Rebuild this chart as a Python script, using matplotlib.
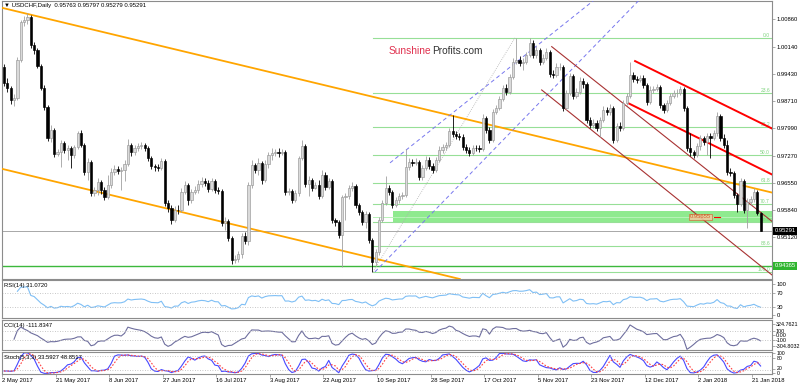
import matplotlib
matplotlib.use("Agg")
import matplotlib.pyplot as plt
import matplotlib.transforms as mtransforms
import numpy as np
import pandas as pd

plt.rcParams['font.family'] = ['Liberation Sans', 'DejaVu Sans']

# ---- data ----
title_text = "USDCHF,Daily  0.95763 0.95797 0.95279 0.95291"
first_open = 0.9960
last_open = 0.95763

closes = [
    0.9918, 0.9905, 0.9874, 0.9879, 0.9979, 1.0079, 1.0084, 1.0092, 1.0018, 1.0005,
    0.9963, 0.9905, 0.9855, 0.9773, 0.9795, 0.9731, 0.9737, 0.9760, 0.9742, 0.9747,
    0.9729, 0.9750, 0.9787, 0.9755, 0.9684, 0.9710, 0.9629, 0.9637, 0.9658, 0.9637,
    0.9618, 0.9650, 0.9684, 0.9692, 0.9687, 0.9689, 0.9705, 0.9755, 0.9737, 0.9747,
    0.9752, 0.9755, 0.9747, 0.9721, 0.9700, 0.9697, 0.9694, 0.9713, 0.9602, 0.9589,
    0.9558, 0.9584, 0.9583, 0.9631, 0.9650, 0.9610, 0.9631, 0.9637, 0.9652, 0.9660,
    0.9655, 0.9639, 0.9660, 0.9637, 0.9634, 0.9550, 0.9555, 0.9510, 0.9452, 0.9455,
    0.9468, 0.9515, 0.9502, 0.9650, 0.9702, 0.9689, 0.9708, 0.9663, 0.9705, 0.9729,
    0.9734, 0.9737, 0.9734, 0.9737, 0.9631, 0.9634, 0.9610, 0.9629, 0.9721, 0.9752,
    0.9652, 0.9663, 0.9642, 0.9650, 0.9621, 0.9676, 0.9644, 0.9660, 0.9558, 0.9552,
    0.9518, 0.9618, 0.9621, 0.9642, 0.9647, 0.9597, 0.9579, 0.9552, 0.9573, 0.9505,
    0.9447, 0.9473, 0.9558, 0.9602, 0.9642, 0.9631, 0.9597, 0.9610, 0.9621, 0.9623,
    0.9697, 0.9710, 0.9708, 0.9711, 0.9671, 0.9694, 0.9716, 0.9700, 0.9689, 0.9716,
    0.9742, 0.9750, 0.9755, 0.9792, 0.9784, 0.9779, 0.9776, 0.9750, 0.9742, 0.9734,
    0.9747, 0.9746, 0.9744, 0.9826, 0.9795, 0.9768, 0.9842, 0.9852, 0.9876, 0.9905,
    0.9895, 0.9934, 0.9974, 0.9979, 0.9971, 0.9974, 0.9992, 1.0024, 0.9992, 1.0005,
    0.9974, 0.9984, 1.0000, 0.9942, 0.9939, 0.9960, 0.9961, 0.9852, 0.9892, 0.9937,
    0.9884, 0.9895, 0.9924, 0.9916, 0.9821, 0.9808, 0.9813, 0.9800, 0.9821, 0.9847,
    0.9842, 0.9852, 0.9768, 0.9805, 0.9800, 0.9866, 0.9884, 0.9939, 0.9929, 0.9926,
    0.9931, 0.9913, 0.9868, 0.9900, 0.9902, 0.9908, 0.9860, 0.9847, 0.9866, 0.9884,
    0.9892, 0.9893, 0.9902, 0.9852, 0.9747, 0.9737, 0.9729, 0.9752, 0.9773, 0.9763,
    0.9779, 0.9773, 0.9787, 0.9831, 0.9773, 0.9755, 0.9684, 0.9681, 0.9623, 0.9600,
    0.9660, 0.9584, 0.9605, 0.9613, 0.9631, 0.9576, 0.95291]

highs = [
    0.9968, 0.9931, 0.9910, 0.9889, 0.9987, 1.0084, 1.0095, 1.0103, 1.0097, 1.0026,
    1.0010, 0.9968, 0.9913, 0.9860, 0.9808, 0.9800, 0.9744, 0.9768, 0.9766, 0.9755,
    0.9752, 0.9755, 0.9792, 0.9795, 0.9760, 0.9721, 0.9716, 0.9644, 0.9668, 0.9663,
    0.9644, 0.9676, 0.9694, 0.9702, 0.9700, 0.9697, 0.9716, 0.9771, 0.9760, 0.9755,
    0.9760, 0.9763, 0.9760, 0.9752, 0.9726, 0.9705, 0.9705, 0.9721, 0.9718, 0.9610,
    0.9597, 0.9594, 0.9597, 0.9642, 0.9660, 0.9655, 0.9639, 0.9647, 0.9663, 0.9671,
    0.9668, 0.9663, 0.9668, 0.9665, 0.9644, 0.9639, 0.9565, 0.9560, 0.9515, 0.9465,
    0.9476, 0.9523, 0.9526, 0.9658, 0.9716, 0.9708, 0.9721, 0.9713, 0.9716, 0.9737,
    0.9747, 0.9744, 0.9747, 0.9744, 0.9742, 0.9642, 0.9639, 0.9637, 0.9726, 0.9768,
    0.9758, 0.9673, 0.9668, 0.9658, 0.9663, 0.9689, 0.9684, 0.9668, 0.9665, 0.9563,
    0.9558, 0.9623, 0.9629, 0.9650, 0.9658, 0.9652, 0.9602, 0.9584, 0.9581, 0.9579,
    0.9510, 0.9481, 0.9565, 0.9610, 0.9673, 0.9650, 0.9637, 0.9618, 0.9629, 0.9631,
    0.9744, 0.9721, 0.9718, 0.9721, 0.9716, 0.9702, 0.9726, 0.9723, 0.9708, 0.9723,
    0.9752, 0.9758, 0.9763, 0.9800, 0.9834, 0.9792, 0.9787, 0.9784, 0.9758, 0.9750,
    0.9755, 0.9755, 0.9755, 0.9837, 0.9831, 0.9802, 0.9850, 0.9860, 0.9884, 0.9913,
    0.9916, 0.9942, 0.9984, 1.0037, 0.9989, 0.9984, 1.0000, 1.0037, 1.0031, 1.0016,
    1.0010, 0.9995, 1.0010, 1.0005, 0.9952, 0.9971, 0.9971, 0.9966, 0.9900, 0.9945,
    0.9942, 0.9905, 0.9934, 0.9931, 0.9921, 0.9829, 0.9823, 0.9821, 0.9829, 0.9858,
    0.9855, 0.9863, 0.9858, 0.9813, 0.9816, 0.9874, 0.9892, 0.9974, 0.9947, 0.9937,
    0.9939, 0.9939, 0.9918, 0.9910, 0.9910, 0.9916, 0.9913, 0.9866, 0.9874, 0.9892,
    0.9900, 0.9902, 0.9910, 0.9908, 0.9858, 0.9787, 0.9742, 0.9760, 0.9781, 0.9779,
    0.9787, 0.9787, 0.9795, 0.9842, 0.9837, 0.9784, 0.9768, 0.9694, 0.9687, 0.9629,
    0.9668, 0.9665, 0.9615, 0.9621, 0.9642, 0.9637, 0.95797]

lows = [
    0.9910, 0.9895, 0.9863, 0.9858, 0.9874, 0.9974, 1.0068, 1.0074, 1.0010, 0.9995,
    0.9958, 0.9900, 0.9847, 0.9766, 0.9763, 0.9723, 0.9726, 0.9697, 0.9734, 0.9716,
    0.9694, 0.9721, 0.9744, 0.9750, 0.9676, 0.9663, 0.9621, 0.9621, 0.9623, 0.9626,
    0.9610, 0.9613, 0.9642, 0.9676, 0.9679, 0.9637, 0.9660, 0.9700, 0.9726, 0.9729,
    0.9739, 0.9744, 0.9739, 0.9713, 0.9692, 0.9687, 0.9687, 0.9689, 0.9594, 0.9579,
    0.9547, 0.9552, 0.9573, 0.9579, 0.9626, 0.9597, 0.9602, 0.9626, 0.9629, 0.9644,
    0.9647, 0.9631, 0.9634, 0.9629, 0.9626, 0.9542, 0.9531, 0.9502, 0.9442, 0.9444,
    0.9447, 0.9457, 0.9494, 0.9492, 0.9642, 0.9681, 0.9676, 0.9652, 0.9658, 0.9694,
    0.9716, 0.9726, 0.9723, 0.9729, 0.9623, 0.9623, 0.9602, 0.9605, 0.9621, 0.9716,
    0.9644, 0.9621, 0.9634, 0.9639, 0.9613, 0.9615, 0.9637, 0.9639, 0.9550, 0.9542,
    0.9510, 0.9434, 0.9558, 0.9613, 0.9634, 0.9589, 0.9571, 0.9544, 0.9536, 0.9497,
    0.9421, 0.9436, 0.9465, 0.9552, 0.9597, 0.9623, 0.9589, 0.9592, 0.9602, 0.9613,
    0.9618, 0.9689, 0.9700, 0.9702, 0.9663, 0.9663, 0.9689, 0.9692, 0.9681, 0.9684,
    0.9710, 0.9734, 0.9742, 0.9750, 0.9776, 0.9771, 0.9768, 0.9742, 0.9734, 0.9726,
    0.9729, 0.9739, 0.9737, 0.9739, 0.9787, 0.9760, 0.9763, 0.9837, 0.9847, 0.9871,
    0.9887, 0.9889, 0.9929, 0.9968, 0.9963, 0.9952, 0.9968, 0.9987, 0.9984, 0.9984,
    0.9966, 0.9968, 0.9979, 0.9934, 0.9931, 0.9934, 0.9952, 0.9845, 0.9847, 0.9887,
    0.9876, 0.9879, 0.9889, 0.9905, 0.9813, 0.9800, 0.9800, 0.9792, 0.9776, 0.9816,
    0.9834, 0.9834, 0.9760, 0.9763, 0.9792, 0.9795, 0.9860, 0.9879, 0.9921, 0.9918,
    0.9921, 0.9905, 0.9860, 0.9863, 0.9892, 0.9897, 0.9852, 0.9839, 0.9842, 0.9860,
    0.9879, 0.9881, 0.9887, 0.9845, 0.9739, 0.9726, 0.9721, 0.9723, 0.9742, 0.9755,
    0.9729, 0.9721, 0.9768, 0.9779, 0.9766, 0.9747, 0.9676, 0.9673, 0.9615, 0.9579,
    0.9594, 0.9576, 0.9536, 0.9597, 0.9605, 0.9571, 0.95279]

date_labels = ["2 May 2017", "21 May 2017", "8 Jun 2017", "27 Jun 2017", "16 Jul 2017",
               "3 Aug 2017", "22 Aug 2017", "10 Sep 2017", "28 Sep 2017", "17 Oct 2017",
               "5 Nov 2017", "23 Nov 2017", "12 Dec 2017", "2 Jan 2018", "21 Jan 2018"]
bars_per_label = 16

price_ticks = [1.00860, 1.00140, 0.99430, 0.98710, 0.97990, 0.97270, 0.96550, 0.95840, 0.95120]
price_range = (0.94022, 1.01342)

fib_high, fib_low, fib_start = 1.0037, 0.9420, 110.2
fib_levels = [0.0, 23.6, 38.2, 50.0, 61.8, 70.7, 78.6, 88.6, 100.0]
fib_trend = [(110.2, 0.9421), (152.6, 1.0037)]

last_price = 0.95291
support_price = 0.94365
marked_price = 0.95655
zone_low, zone_high, zone_start = 0.9552, 0.9582, 116.2

orange_upper = [(0, 1.0115), (226, 0.9637)]
orange_lower = [(0, 0.9691), (135.3, 0.9404)]
blue_upper = [(115.3, 0.9708), (175.9, 1.0134)]
blue_lower = [(110.8, 0.9421), (189.1, 1.0131)]
brown_upper = [(163.6, 1.0014), (228.8, 0.9558)]
brown_lower = [(160.6, 0.9900), (228.8, 0.9417)]
red_upper = [(188.5, 0.9976), (228.8, 0.9801)]
red_lower = [(186.5, 0.9865), (228.8, 0.9680)]

rsi_text = "RSI(14) 31.0720"
cci_text = "CCI(14) -111.8347"
stoch_text = "Stoch(5,3,3) 33.5927 48.8517"
cci_range = (-304.8032, 324.7621)

# ---- build ohlc and indicators ----
c = np.array(closes)
h = np.array(highs)
l = np.array(lows)
o = np.concatenate([[first_open], c[:-1]])
o[-1] = last_open
n = len(c)
x = np.arange(n)

df = pd.DataFrame({"o": o, "h": h, "l": l, "c": c})
delta = df.c.diff()
gain = delta.clip(lower=0)
loss = -delta.clip(upper=0)
ag = gain.ewm(alpha=1/14, adjust=True).mean()
al = loss.ewm(alpha=1/14, adjust=True).mean()
rsi = 100 - 100 / (1 + ag / al)
rsi[:4] = np.nan  # not enough history for the first bars

tp = (df.h + df.l + df.c) / 3
sma = tp.rolling(14, min_periods=4).mean()
md = tp.rolling(14, min_periods=4).apply(lambda v: np.mean(np.abs(v - v.mean())), raw=True)
cci = (tp - sma) / (0.015 * md)

ll = df.l.rolling(5, min_periods=1).min()
hh = df.h.rolling(5, min_periods=1).max()
k = (df.c - ll).rolling(3, min_periods=1).sum() / (hh - ll).rolling(3, min_periods=1).sum() * 100
d = k.rolling(3, min_periods=1).mean()

# ---- figure ----
W, H = 800, 386
fig = plt.figure(figsize=(8, 3.86), dpi=100)
fig.patch.set_facecolor("white")


def box(top, bottom):
    return [2 / W, 1 - bottom / H, 770 / W, (bottom - top) / H]


ax = fig.add_axes(box(1, 279))
ax_rsi = fig.add_axes(box(280, 318), sharex=ax)
ax_cci = fig.add_axes(box(320, 350), sharex=ax)
ax_st = fig.add_axes(box(352, 374), sharex=ax)

for a in (ax, ax_rsi, ax_cci, ax_st):
    for s in a.spines.values():
        s.set_color("#8c8c8c")
        s.set_linewidth(0.8)
    a.yaxis.tick_right()
    a.tick_params(axis="y", length=2, width=0.5, colors="#8c8c8c", labelcolor="black",
                  labelsize=4.2, pad=1.2)
    a.tick_params(axis="x", length=0, labelbottom=False)

ax.set_xlim(-0.6, 229.4)
ax.set_ylim(*price_range)


def ray(a, pts, **kw):
    (x1, y1), (x2, y2) = pts
    slope = (y2 - y1) / (x2 - x1)
    xe = 240
    a.plot([x1, xe], [y1, y1 + slope * (xe - x1)], **kw)


# horizontal levels
ax.axhline(last_price, color="#a8a8a8", lw=0.7, zorder=1)
ax.axhline(support_price, color="#3cb83c", lw=1.0, zorder=1)
ax.fill_between([zone_start, 240], zone_low, zone_high, color="#8fea8f", lw=0, zorder=1)
ax.plot([fib_start, 240], [marked_price, marked_price], color="#b9f3b9", lw=0.7, zorder=1)

fr = fib_high - fib_low
for lv in fib_levels:
    p = fib_high - fr * lv / 100
    ax.plot([fib_start, 240], [p, p], color="#97df97", lw=0.8, zorder=1)
    ax.text(228.8, p, f"{lv:.1f}", color="#7fd37f", fontsize=3.6, ha="right", va="bottom",
            zorder=2)
ax.plot(*zip(*fib_trend), color="#b0b0b0", lw=0.6, ls=(0, (1, 1.5)), zorder=1)

# trend lines
ax.axline(*orange_upper, color="#ffa500", lw=1.3, zorder=3)
ax.axline(*orange_lower, color="#ffa500", lw=1.3, zorder=3)
ray(ax, blue_upper, color="#7777ee", lw=0.7, ls=(0, (4, 3)), zorder=3)
ray(ax, blue_lower, color="#7777ee", lw=0.7, ls=(0, (4, 3)), zorder=3)
ray(ax, brown_upper, color="#a83232", lw=0.8, zorder=3)
ray(ax, brown_lower, color="#a83232", lw=0.8, zorder=3)
ray(ax, red_upper, color="#ff0000", lw=1.4, zorder=3)
ray(ax, red_lower, color="#ff0000", lw=1.4, zorder=3)

# candles
up = c >= o
blo = np.minimum(o, c)
bh = np.maximum(np.abs(c - o), 0.00007)
ax.vlines(x[up], l[up], h[up], color="#a0a0a0", lw=0.6, zorder=4)
ax.vlines(x[~up], l[~up], h[~up], color="black", lw=0.6, zorder=4)
ax.bar(x[up], bh[up], 0.66, blo[up], color="#dadada", edgecolor="#979797", lw=0.45, zorder=5)
ax.bar(x[~up], bh[~up], 0.66, blo[~up], color="black", edgecolor="black", lw=0.45, zorder=5)

# marked level label
ax.text(204.8, marked_price, f"{marked_price:.5f}", fontsize=4.2, color="#d0602a",
        ha="left", va="center", zorder=6,
        bbox=dict(boxstyle="square,pad=0.15", facecolor="#f2c9a0", edgecolor="#d0602a",
                  lw=0.5, alpha=0.85))
ax.plot([212.2, 214.0], [marked_price, marked_price], color="red", lw=0.8, zorder=6)

ax.set_yticks(price_ticks)
ax.set_yticklabels([f"{p:.5f}" for p in price_ticks])
tr = mtransforms.blended_transform_factory(ax.transAxes, ax.transData)
ax.text(1.003, last_price, f"{last_price:.5f}", transform=tr, fontsize=4.2, color="white",
        va="center", ha="left", clip_on=False,
        bbox=dict(boxstyle="square,pad=0.25", facecolor="black", edgecolor="none"))
ax.text(1.003, support_price, f"{support_price:.5f}", transform=tr, fontsize=4.2, color="white",
        va="center", ha="left", clip_on=False,
        bbox=dict(boxstyle="square,pad=0.25", facecolor="#2fb52f", edgecolor="none"))

# RSI
ax_rsi.plot(x, rsi, color="#7fbff5", lw=0.8)
ax_rsi.set_ylim(0.7, 104.8)
for lv in (70, 30):
    ax_rsi.axhline(lv, color="#b5b5b5", lw=0.6, ls=(0, (1, 2)))
ax_rsi.set_yticks([94, 70, 30, 9])
ax_rsi.set_yticklabels(["100", "70", "30", "0"])

# CCI
ax_cci.plot(x, cci.clip(*cci_range), color="#6e6e9e", lw=0.8)
ax_cci.set_ylim(*cci_range)
for lv in (100, -100):
    ax_cci.axhline(lv, color="#b5b5b5", lw=0.6, ls=(0, (1, 2)))
ax_cci.set_yticks([234, 100, 0, -100, -221])
ax_cci.set_yticklabels(["324.7621", "100", "0.00", "-100", "-304.8032"])
ax_cci.tick_params(axis="y", labelsize=3.9, pad=0.6)

# Stochastic
ax_st.plot(x, k, color="#4848ff", lw=0.8)
ax_st.plot(x, d, color="#ff4040", lw=0.8, ls=(0, (1.5, 1.5)))
ax_st.set_ylim(0, 100)
for lv in (80, 20):
    ax_st.axhline(lv, color="#b5b5b5", lw=0.6, ls=(0, (1, 2)))
ax_st.set_yticks([94, 75, 25, 6])
ax_st.set_yticklabels(["100", "80", "20", "0"])
ax_st.tick_params(axis="y", labelsize=3.7)

ax_st.set_xticks([bars_per_label * i - 0.6 for i in range(len(date_labels))])
ax_st.set_xticklabels(date_labels)
ax_st.tick_params(axis="x", length=2, width=0.5, colors="#8c8c8c", labelcolor="black",
                  labelbottom=True, labelsize=4.2, pad=1)
for t in ax_st.get_xticklabels():
    t.set_ha("left")


def ftext(px, py, s, **kw):
    fig.text(px / W, 1 - py / H, s, va="center", ha="left", **kw)


ftext(4, 6, "\u25bc " + title_text, fontsize=4.3, color="black")
ftext(4, 285, rsi_text, fontsize=4.2, color="black")
ftext(4, 325, cci_text, fontsize=4.2, color="black")
ftext(4, 357, stoch_text, fontsize=4.2, color="black")
ftext(389, 51, "Sunshine", fontsize=7.3, color="#e0304e")
ftext(432.3, 51, "Profits.com", fontsize=7.3, color="#333333")

fig.savefig("out.png", dpi=100)
